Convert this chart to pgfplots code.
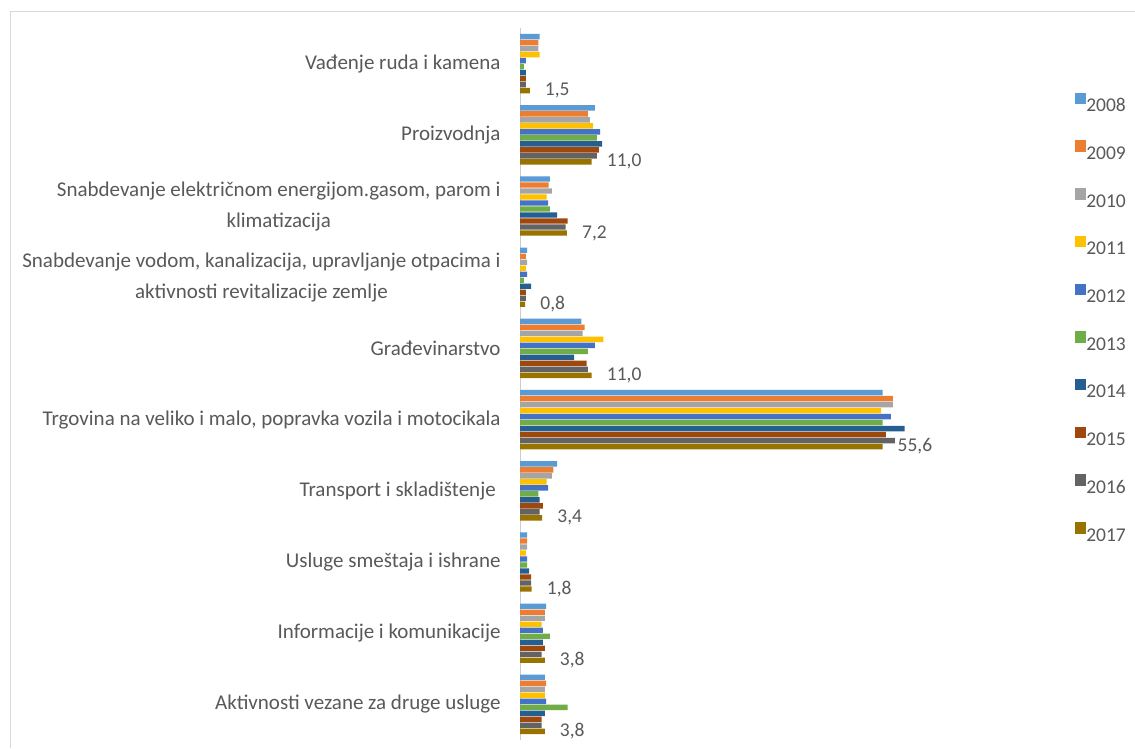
\documentclass[border=0pt]{standalone}
\usepackage{fontspec}
\setmainfont{Carlito}
\usepackage{pgfplots}
\usepackage{pgfplotstable}
\pgfplotsset{compat=1.18}
\definecolor{txt}{HTML}{595959}
\definecolor{cA}{HTML}{5B9BD5}
\definecolor{cB}{HTML}{ED7D31}
\definecolor{cC}{HTML}{A5A5A5}
\definecolor{cD}{HTML}{FFC000}
\definecolor{cE}{HTML}{4472C4}
\definecolor{cF}{HTML}{70AD47}
\definecolor{cG}{HTML}{255E91}
\definecolor{cH}{HTML}{9E480E}
\definecolor{cI}{HTML}{636363}
\definecolor{cJ}{HTML}{997300}
\pgfplotstableread{
y  a2008 a2009 a2010 a2011 a2012 a2013 a2014 a2015 a2016 a2017
0  3.0   2.8   2.8   3.0   0.9   0.6   0.9   0.9   0.9   1.5
1  11.5  10.4  10.7  11.2  12.3  11.8  12.6  12.1  11.8  11.0
2  4.6   4.4   4.9   4.1   4.3   4.6   5.7   7.3   7.0   7.2
3  1.1   0.9   1.1   0.9   1.1   0.6   1.7   0.9   0.9   0.8
4  9.4   9.9   9.6   12.8  11.5  10.4  8.3   10.2  10.4  11.0
5  55.6  57.2  57.2  55.4  56.9  55.6  59.0  56.1  57.5  55.6
6  5.7   5.1   4.9   4.1   4.3   2.8   3.0   3.5   3.0   3.4
7  1.1   1.1   1.1   0.9   1.1   1.1   1.4   1.7   1.7   1.8
8  4.0   3.8   3.8   3.3   3.5   4.6   3.5   3.8   3.3   3.8
9  3.8   4.0   3.8   3.8   4.0   7.3   3.8   3.3   3.3   3.8
}\datatable
\begin{document}
\begin{tikzpicture}
\useasboundingbox[fill=white] (0,0) rectangle (1135pt,-748pt);
\draw[color=black!15, line width=1pt] (10pt,-748pt) -- (10pt,-11pt) -- (1135pt,-11pt);
\begin{axis}[
  at={(520pt,-28pt)}, anchor=north west,
  scale only axis, width=391.2pt, height=712pt,
  xbar, bar width=5.4pt,
  xmin=0, xmax=60, ymin=-0.5, ymax=9.5,
  y dir=reverse,
  hide x axis,
  axis y line*=left,
  y axis line style={draw=black!20, line width=1pt, -},
  ytick={0,...,9},
  ytick style={draw=none},
  yticklabels={{Vađenje ruda i kamena},{Proizvodnja},{Snabdevanje električnom energijom.gasom, parom i\\klimatizacija},{Snabdevanje vodom, kanalizacija, upravljanje otpacima i\\aktivnosti revitalizacije zemlje},{Građevinarstvo},{Trgovina na veliko i malo, popravka vozila i motocikala},{Transport i skladištenje },{Usluge smeštaja i ishrane},{Informacije i komunikacije},{Aktivnosti vezane za druge usluge}},
  yticklabel style={font=\fontsize{21}{31}\selectfont, text=txt, align=center, inner sep=0pt, anchor=east, xshift=-15pt},
  /pgf/number format/assume math mode=true,
  clip=false,
  legend style={draw=none, fill=none, at={(axis cs:84.6,0.378)}, anchor=north west,
    font=\fontsize{19.5}{23}\selectfont, text=txt, row sep=24.7pt,
    nodes={inner sep=0pt, text height=14pt, text depth=4pt}},
  legend cell align=left,
  /tikz/every even column/.style={column sep=8pt},
  legend image code/.code={\fill[#1] (0pt,2.5pt) rectangle (11.5pt,14pt);},
]
\addplot[draw=none, fill=cA, bar shift=27pt] table[x=a2008,y=y]{\datatable};
\addplot[draw=none, fill=cB, bar shift=21pt] table[x=a2009,y=y]{\datatable};
\addplot[draw=none, fill=cC, bar shift=15pt] table[x=a2010,y=y]{\datatable};
\addplot[draw=none, fill=cD, bar shift=9pt] table[x=a2011,y=y]{\datatable};
\addplot[draw=none, fill=cE, bar shift=3pt] table[x=a2012,y=y]{\datatable};
\addplot[draw=none, fill=cF, bar shift=-3pt] table[x=a2013,y=y]{\datatable};
\addplot[draw=none, fill=cG, bar shift=-9pt] table[x=a2014,y=y]{\datatable};
\addplot[draw=none, fill=cH, bar shift=-15pt] table[x=a2015,y=y]{\datatable};
\addplot[draw=none, fill=cI, bar shift=-21pt] table[x=a2016,y=y]{\datatable};
\addplot[draw=none, fill=cJ, bar shift=-27pt,
  point meta=x,
  nodes near coords={\pgfmathprintnumber[fixed,fixed zerofill,precision=1,use comma]{\pgfplotspointmeta}},
  nodes near coords style={font=\fontsize{19.5}{23}\selectfont, text=txt, anchor=west, inner sep=0pt, xshift=15pt}
  ] table[x=a2017,y=y]{\datatable};
\legend{2008,2009,2010,2011,2012,2013,2014,2015,2016,2017}
\end{axis}
\end{tikzpicture}
\end{document}
